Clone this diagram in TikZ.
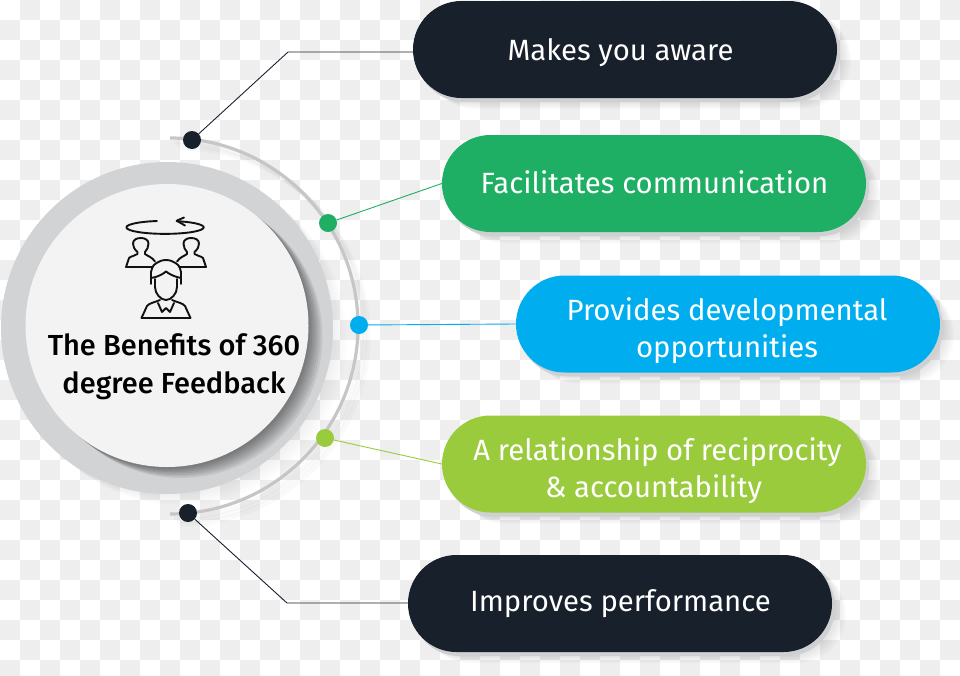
\documentclass[tikz,border=0pt]{standalone}
\usepackage{fontspec}
\setmainfont{Fira Sans}
\newfontfamily\titlefont{Fira Sans Medium}
\usetikzlibrary{shapes.misc, shadows}
\definecolor{darkpill}{HTML}{18202B}
\definecolor{greenpill}{HTML}{1EAF64}
\definecolor{bluepill}{HTML}{00AEEF}
\definecolor{limepill}{HTML}{9ACB3C}
\definecolor{checkgrey}{HTML}{EEEEEE}
\definecolor{ringgrey}{HTML}{D1D3D4}
\definecolor{discgrey}{HTML}{F3F3F3}
\definecolor{arcgrey}{HTML}{C6C6C6}
\definecolor{shadegrey}{HTML}{CFD0D2}
\definecolor{iconink}{HTML}{111111}
\tikzset{
softshadow/.style={
general shadow={fill=black,opacity=#1,shadow xshift=2pt,shadow yshift=-2pt},
general shadow={fill=black,opacity=#1,shadow xshift=4pt,shadow yshift=-3.5pt},
general shadow={fill=black,opacity=#1,shadow xshift=6pt,shadow yshift=-5pt},
general shadow={fill=black,opacity=#1,shadow xshift=8pt,shadow yshift=-6.5pt},
general shadow={fill=black,opacity=#1,shadow xshift=10pt,shadow yshift=-8pt},
general shadow={fill=black,opacity=#1,shadow xshift=12pt,shadow yshift=-9.5pt},
general shadow={fill=black,opacity=#1,shadow xshift=14pt,shadow yshift=-11pt}},
pillbox/.style={rounded rectangle, minimum width=424pt, minimum height=97pt, inner sep=0pt,
softshadow=.018, general shadow={fill=shadegrey,shadow xshift=3pt,shadow yshift=-4pt}, fill=#1},
pilltext/.style={text=white, align=center, font=\fontsize{29.3}{37}\selectfont},
dotnode/.style={circle, minimum size=18pt, inner sep=0pt, fill=#1},
link/.style={line width=.9pt, draw=#1},
iconline/.style={line width=1.9pt, draw=iconink, line join=round, line cap=round},
}

\begin{document}
\begin{tikzpicture}[x=1pt,y=1pt,yscale=-1]
\useasboundingbox (0,0) rectangle (960,675);
\clip (0,0) rectangle (960,675);
% checker ground
\foreach \i in {0,...,47}
\foreach \j in {0,...,33}{
\pgfmathtruncatemacro{\odd}{mod(\i+\j,2)}
\ifnum\odd=1 \fill[checkgrey] (20*\i,20*\j) rectangle (20*\i+20,20*\j+20); \fi
}

% centre discs and arc
\foreach \s in {4,7,10}
\draw[line width=5pt, black, opacity=.02] (170+\s,138+\s) arc (-90:90:188);
\draw[arcgrey, line width=3.2pt] (170,138) arc (-90:90:188);
\node[circle, minimum size=332pt, inner sep=0pt, fill=ringgrey, softshadow=.008] (ring) at (167,328) {};
\node[circle, minimum size=283pt, inner sep=0pt, fill=discgrey, softshadow=.07] (disc) at (167,325.5) {};

% pills
\node[pillbox=darkpill] (aware) at (625,49.5) {};
\node[pillbox=greenpill] (comm) at (654,183.5) {};
\node[pillbox=bluepill] (dev) at (728,324) {};
\node[pillbox=limepill] (recip) at (654,464) {};
\node[pillbox=darkpill] (perf) at (620,603.5) {};
\node[pilltext] (awaretext) at (620.5,52.5) {Makes you aware};
\node[pilltext] (commtext) at (654.5,182.5) {Facilitates communication};
\node[pilltext] (devtext) at (727,331) {Provides developmental\\opportunities};
\node[pilltext] (reciptext) at (657.5,471) {A relationship of reciprocity\\\hspace*{-8pt}\&\ accountability};
\node[pilltext] (perftext) at (620.5,604) {Improves performance};

% dots on the arc
\node[dotnode=darkpill] (dotaware) at (192,140) {};
\node[dotnode=greenpill] (dotcomm) at (328,223) {};
\node[dotnode=bluepill] (dotdev) at (359,325) {};
\node[dotnode=limepill] (dotrecip) at (325,438) {};
\node[dotnode=darkpill] (dotperf) at (188,513) {};
\coordinate (elbowtop) at (288,52);
\coordinate (elbowlow) at (287,603);

% connectors
\draw[link=darkpill] (dotaware)--(elbowtop)--(elbowtop-|aware.west);
\draw[link=greenpill] (dotcomm)--(comm.west);
\draw[link=bluepill] (dotdev)--(dev.west);
\draw[link=limepill] (dotrecip)--(recip.west);
\draw[link=darkpill] (dotperf)--(elbowlow)--(elbowlow-|perf.west);

\node[align=center, text=black, font=\titlefont\fontsize{29}{38}\selectfont] (title) at (174,367) {The Benefits of 360\\degree Feedback};

% icon
\draw[iconline] (157,221) arc (-102:-432.5:38.7 and 6.5);
\draw[iconline] (184,217.5)--(176.7,220.7)--(185,225.5);
\foreach \m in {1,-1}
\draw[iconline, shift={(166,0)}, xscale=\m] (-13,267)--(-40,267)--(-37,258) .. controls (-35,256) and (-31,256) .. (-28.5,254)--(-28.5,252)
.. controls (-32,249) and (-33,246) .. (-33,243.5) .. controls (-33,239.5) and (-29,238) .. (-25,238)
.. controls (-21,238) and (-17.5,240) .. (-17.5,243.5) .. controls (-17.5,247) and (-19,250) .. (-21,252)--(-21,254)
.. controls (-18.5,256) and (-14,257) .. (-11,261.5);
\begin{scope}[shift={(166,0)}]
\draw[iconline] (-15,284)--(-15,272) .. controls (-15,265) and (-7,260) .. (0,260) .. controls (7,260) and (15,265) .. (15,272)--(15,284);
\draw[iconline] (-15,278) .. controls (-8,277) and (-3,274) .. (0,271.5) .. controls (3,274) and (9,277) .. (15,278);
\draw[iconline] (-11,279)--(-11,287) .. controls (-11,294) and (-5,300) .. (0,300) .. controls (5,300) and (11,294) .. (11,287)--(11,279);
\draw[iconline] (-24.5,318)--(-19,306) .. controls (-17,303) and (-10,302) .. (-6,300);
\draw[iconline] (24.5,318)--(19,306) .. controls (17,303) and (10,302) .. (6,300);
\draw[iconline] (-24.5,318)--(24.5,318);
\draw[iconline] (-8,303)--(-4,312)--(0,308)--(4,312)--(8,303);
\end{scope}
\end{tikzpicture}
\end{document}
